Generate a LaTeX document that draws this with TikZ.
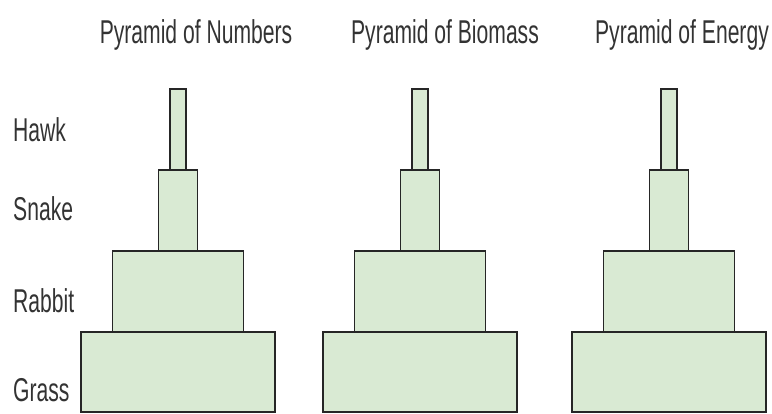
\documentclass[tikz,border=0pt]{standalone}
\usepackage{fontspec}
\setmainfont[FakeStretch=0.64]{Liberation Sans}
\definecolor{lapas}{HTML}{D9EAD3}
\definecolor{tekstas}{HTML}{333333}

\begin{document}
\begin{tikzpicture}[x=1pt, y=-1pt,
    lygis/.style={fill=lapas, draw=black!85, line width=1.6pt},
    every node/.style={font=\fontsize{33}{36}\selectfont, text=tekstas, inner sep=0pt}]
    \useasboundingbox (0,0) rectangle (772,414);
    % Piramidės: centras, pavadinimo vieta, pavadinimas
    \foreach \cx/\tx/\name in {178/196/Numbers, 420/445/Biomass, 669/682/Energy} {
        \filldraw[lygis] (\cx-97,332) rectangle (\cx+97,412);
        \filldraw[lygis] (\cx-65.5,251) rectangle (\cx+65.5,332);
        \filldraw[lygis] (\cx-19.5,170) rectangle (\cx+19.5,251);
        \filldraw[lygis] (\cx-8,89) rectangle (\cx+8,170);
        \node[anchor=base] (title-\name) at (\tx,44) {Pyramid of \name};
    }
    % Mitybos lygiai
    \node[anchor=base west] (hawk) at (13,142) {Hawk};
    \node[anchor=base west] (snake) at (13,221) {Snake};
    \node[anchor=base west] (rabbit) at (13,313) {Rabbit};
    \node[anchor=base west] (grass) at (13,402) {Grass};
\end{tikzpicture}
\end{document}
